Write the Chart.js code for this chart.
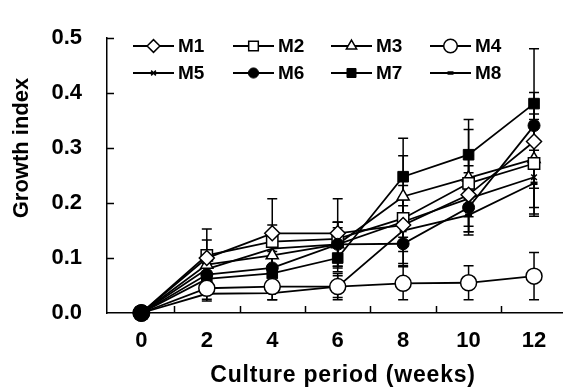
<!DOCTYPE html>
<html>
<head>
<meta charset="utf-8">
<script src="https://cdn.jsdelivr.net/npm/chart.js@4/dist/chart.umd.min.js"></script>
<style>
    html, body { margin: 0; padding: 0; background: #fff; }
    #growth-chart { display: block; }
</style>
</head>
<body>
<canvas id="growth-chart" width="572" height="390"></canvas>
<script>
const WEEKS = [0, 2, 4, 6, 8, 10, 12];
const SERIES_LABELS = ['M1', 'M2', 'M3', 'M4', 'M5', 'M6', 'M7', 'M8'];
const Y_TICKS = [0, 0.1, 0.2, 0.3, 0.4, 0.5];

const M1 = [0, 0.100, 0.145, 0.145, 0.160, 0.215, 0.312];
const M2 = [0, 0.105, 0.130, 0.135, 0.172, 0.236, 0.272];
const M3 = [0, 0.088, 0.105, 0.125, 0.212, 0.246, 0.280];
const M4 = [0, 0.045, 0.048, 0.048, 0.054, 0.055, 0.067];
const M5 = [0, 0.080, 0.117, 0.125, 0.166, 0.208, 0.247];
const M6 = [0, 0.070, 0.082, 0.125, 0.126, 0.192, 0.341];
const M7 = [0, 0.062, 0.072, 0.100, 0.248, 0.288, 0.381];
const M8 = [0, 0.035, 0.036, 0.048, 0.150, 0.178, 0.236];

// standard deviations (error bars)
const E1 = [0, 0.033, 0.063, 0.063, 0.035, 0.040, 0.050];
const E2 = [0, 0.048, 0.030, 0.030, 0.060, 0.050, 0.080];
const E3 = [0, 0.020, 0.030, 0.040, 0.074, 0.088, 0.100];
const E4 = [0, 0.020, 0.024, 0.024, 0.030, 0.031, 0.043];
const E5 = [0, 0.020, 0.030, 0.030, 0.040, 0.060, 0.020];
const E6 = [0, 0.020, 0.030, 0.040, 0.040, 0.050, 0.060];
const E7 = [0, 0.020, 0.030, 0.025, 0.070, 0.064, 0.100];
const E8 = [0, 0.013, 0.012, 0.020, 0.060, 0.030, 0.060];

const VALUES = [M1, M2, M3, M4, M5, M6, M7, M8];
const ERRORS = [E1, E2, E3, E4, E5, E6, E7, E8];

const FONT = '"Liberation Sans", Arial, sans-serif';

const MARKERS = [
    { pointStyle: 'rectRot', radius: 7.5, fill: '#ffffff', border: 1.5 },
    { pointStyle: 'rect', radius: 8, fill: '#ffffff', border: 1.5 },
    { pointStyle: 'triangle', radius: 7, fill: '#ffffff', border: 1.5 },
    { pointStyle: 'circle', radius: 8, fill: '#ffffff', border: 1.5 },
    { pointStyle: 'crossRot', radius: 4, fill: '#000000', border: 1.5 },
    { pointStyle: 'circle', radius: 6, fill: '#000000', border: 1 },
    { pointStyle: 'rect', radius: 7.5, fill: '#000000', border: 1 },
    { pointStyle: 'line', radius: 3.5, fill: '#000000', border: 3.5 }
];

function toPoints(values) {
    return values.map((value, index) => ({ x: WEEKS[index], y: value }));
}

function buildDatasets() {
    return SERIES_LABELS.map((label, i) => {
        const marker = MARKERS[i];
        const radius = WEEKS.map((week) => (label === 'M6' && week === 0 ? 8.5 : marker.radius));
        return {
            label,
            data: toPoints(VALUES[i]),
            _errors: ERRORS[i],
            borderColor: '#000000',
            borderWidth: 1.8,
            tension: 0,
            fill: false,
            clip: false,
            pointStyle: marker.pointStyle,
            pointRadius: radius,
            pointHoverRadius: radius,
            pointBackgroundColor: marker.fill,
            pointBorderColor: '#000000',
            pointBorderWidth: marker.border,
            order: label === 'M6' ? -1 : 0
        };
    });
}

const errorBarsPlugin = {
    id: 'errorBars',
    beforeDatasetsDraw(chart) {
        const { ctx, scales: { x, y } } = chart;
        ctx.save();
        ctx.strokeStyle = '#000000';
        ctx.lineWidth = 1.5;
        chart.data.datasets.forEach((dataset) => {
            dataset.data.forEach((point, index) => {
                const err = dataset._errors[index];
                if (!err) return;
                const px = x.getPixelForValue(point.x);
                const top = y.getPixelForValue(point.y + err);
                const bottom = y.getPixelForValue(point.y - err);
                ctx.beginPath();
                ctx.moveTo(px, top);
                ctx.lineTo(px, bottom);
                ctx.moveTo(px - 5, top);
                ctx.lineTo(px + 5, top);
                ctx.moveTo(px - 5, bottom);
                ctx.lineTo(px + 5, bottom);
                ctx.stroke();
            });
        });
        ctx.restore();
    }
};

const axisDecorPlugin = {
    id: 'axisDecor',
    afterDraw(chart) {
        const { ctx, chartArea, scales: { x, y } } = chart;
        ctx.save();
        ctx.strokeStyle = '#000000';
        ctx.lineWidth = 1.5;
        ctx.beginPath();
        Y_TICKS.slice(1).forEach((value) => {
            const py = Math.round(y.getPixelForValue(value)) + 0.5;
            ctx.moveTo(chartArea.left, py);
            ctx.lineTo(chartArea.left + 7, py);
        });
        [1, 3, 5, 7, 9, 11].forEach((value) => {
            const px = Math.round(x.getPixelForValue(value)) + 0.5;
            ctx.moveTo(px, chartArea.bottom);
            ctx.lineTo(px, chartArea.bottom - 7);
        });
        ctx.stroke();

        // axis titles
        ctx.fillStyle = '#000000';
        ctx.textAlign = 'center';
        ctx.textBaseline = 'middle';
        ctx.font = `bold 23px ${FONT}`;
        ctx.letterSpacing = '0.8px';
        ctx.fillText('Culture period (weeks)', 343, 376);
        ctx.font = `bold 22px ${FONT}`;
        ctx.letterSpacing = '0px';
        ctx.translate(22, 148);
        ctx.rotate(-Math.PI / 2);
        ctx.fillText('Growth index', 0, 0);
        ctx.restore();
    }
};

const legendPlugin = {
    id: 'lineLegend',
    afterDraw(chart) {
        const { ctx } = chart;
        const columns = [133, 233, 331, 430];
        const rows = [46, 73];
        ctx.save();
        chart.data.datasets.forEach((dataset, i) => {
            const x0 = columns[i % 4];
            const yc = rows[Math.floor(i / 4)];
            ctx.strokeStyle = '#000000';
            ctx.lineWidth = 1.8;
            ctx.beginPath();
            ctx.moveTo(x0, yc);
            ctx.lineTo(x0 + 41, yc);
            ctx.stroke();
            const marker = MARKERS[i];
            ctx.fillStyle = marker.fill;
            ctx.lineWidth = marker.border;
            Chart.helpers.drawPoint(ctx, {
                pointStyle: marker.pointStyle,
                radius: marker.radius * 0.85,
                rotation: 0,
                borderWidth: marker.border
            }, x0 + 20.5, yc);
            ctx.fillStyle = '#000000';
            ctx.font = `bold 19px ${FONT}`;
            ctx.textAlign = 'left';
            ctx.textBaseline = 'middle';
            ctx.fillText(dataset.label, x0 + 45, yc + 1);
        });
        ctx.restore();
    }
};

const canvas = document.getElementById('growth-chart');
new Chart(canvas.getContext('2d'), {
    type: 'line',
    data: { datasets: buildDatasets() },
    options: {
        responsive: false,
        animation: false,
        events: [],
        layout: { padding: { top: 22, right: 0, bottom: 0, left: 0 } },
        plugins: {
            legend: { display: false },
            tooltip: { enabled: false }
        },
        scales: {
            x: {
                type: 'linear',
                min: -1.05,
                max: 12.87,
                afterBuildTicks: (scale) => {
                    scale.ticks = WEEKS.map((value) => ({ value }));
                },
                afterFit: (scale) => { scale.height = 77; },
                grid: { display: false, drawTicks: false },
                border: { display: true, color: '#000000', width: 1.5 },
                ticks: {
                    color: '#000000',
                    padding: 15,
                    maxRotation: 0,
                    autoSkip: false,
                    font: { family: FONT, size: 22, weight: 'bold' },
                    callback: (value) => String(value)
                }
            },
            y: {
                min: 0,
                max: 0.5,
                afterBuildTicks: (scale) => {
                    scale.ticks = Y_TICKS.map((value) => ({ value }));
                },
                afterFit: (scale) => { scale.width = 107; },
                grid: { display: false, drawTicks: false },
                border: { display: true, color: '#000000', width: 1.5 },
                ticks: {
                    color: '#000000',
                    padding: 25,
                    font: { family: FONT, size: 22, weight: 'bold' },
                    callback: (value) => value.toFixed(1)
                }
            }
        }
    },
    plugins: [errorBarsPlugin, axisDecorPlugin, legendPlugin]
});
</script>
</body>
</html>
